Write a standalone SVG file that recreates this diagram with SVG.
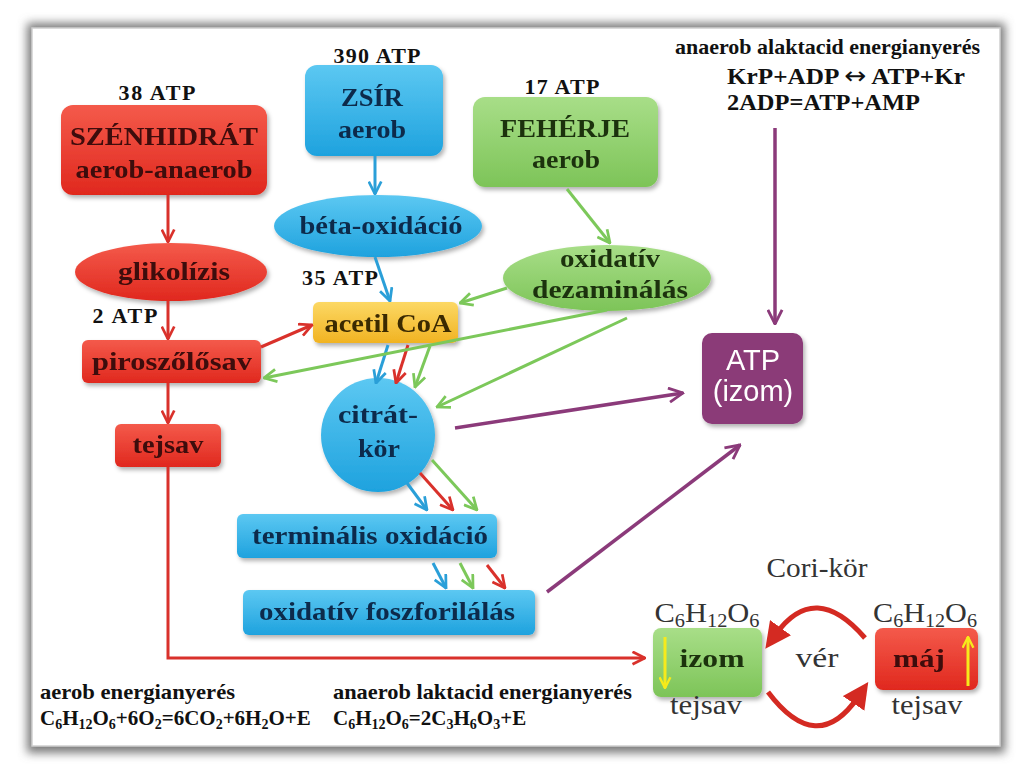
<svg xmlns="http://www.w3.org/2000/svg" width="1024" height="771" viewBox="0 0 1024 771">
<defs>
<filter id="blur" x="-5%" y="-5%" width="110%" height="110%"><feGaussianBlur stdDeviation="5"/></filter>
<filter id="ds" x="-10%" y="-10%" width="125%" height="130%"><feDropShadow dx="2" dy="3" stdDeviation="2" flood-color="#000" flood-opacity="0.3"/></filter>
<linearGradient id="gRed" x1="0" y1="0" x2="0" y2="1"><stop offset="0" stop-color="#f45a4b"/><stop offset="1" stop-color="#e0281e"/></linearGradient>
<linearGradient id="gBlue" x1="0" y1="0" x2="0" y2="1"><stop offset="0" stop-color="#5cc8f2"/><stop offset="1" stop-color="#1ea2de"/></linearGradient>
<linearGradient id="gGreen" x1="0" y1="0" x2="0" y2="1"><stop offset="0" stop-color="#a8de88"/><stop offset="1" stop-color="#7dc458"/></linearGradient>
<linearGradient id="gYel" x1="0" y1="0" x2="0" y2="1"><stop offset="0" stop-color="#fcd864"/><stop offset="1" stop-color="#f1b322"/></linearGradient>
<marker id="aR" viewBox="0 0 12 12" refX="11" refY="6" markerWidth="15" markerHeight="15" markerUnits="userSpaceOnUse" orient="auto"><path d="M1,1 L11,6 L1,11" fill="none" stroke="#d9312b" stroke-width="2.2"/></marker>
<marker id="aB" viewBox="0 0 12 12" refX="11" refY="6" markerWidth="15" markerHeight="15" markerUnits="userSpaceOnUse" orient="auto"><path d="M1,1 L11,6 L1,11" fill="none" stroke="#2a9fd8" stroke-width="2.2"/></marker>
<marker id="aG" viewBox="0 0 12 12" refX="11" refY="6" markerWidth="15" markerHeight="15" markerUnits="userSpaceOnUse" orient="auto"><path d="M1,1 L11,6 L1,11" fill="none" stroke="#7cc85a" stroke-width="2.2"/></marker>
<marker id="aP" viewBox="0 0 12 12" refX="11" refY="6" markerWidth="17" markerHeight="17" markerUnits="userSpaceOnUse" orient="auto"><path d="M1,1 L11,6 L1,11" fill="none" stroke="#8b3a7a" stroke-width="2"/></marker>
<marker id="aY" viewBox="0 0 12 12" refX="11" refY="6" markerWidth="13" markerHeight="13" markerUnits="userSpaceOnUse" orient="auto"><path d="M1,1 L11,6 L1,11" fill="none" stroke="#f6ea1a" stroke-width="2.2"/></marker>
<marker id="aC" viewBox="0 0 10 10" refX="3" refY="5" markerWidth="26" markerHeight="26" markerUnits="userSpaceOnUse" orient="auto"><path d="M0,0 L10,5 L0,10 z" fill="#d42a22"/></marker>
</defs>
<style>
.n{font-family:"Liberation Serif","Times New Roman",serif;font-weight:bold;font-size:26px;text-anchor:middle}
.tr{fill:#3d0a08}.tb{fill:#0c2c4c}.tg{fill:#1d3310}.ty{fill:#3b2a05}
.atp{font-family:"Liberation Serif","Times New Roman",serif;font-weight:bold;font-size:22px;fill:#111;text-anchor:middle}
.cm{font-family:"Liberation Serif","Times New Roman",serif;font-size:27px;fill:#333;text-anchor:middle}
.eq{font-family:"Liberation Serif","Times New Roman",serif;font-weight:bold;font-size:21px;fill:#111}
.eqr{font-family:"Liberation Serif","Times New Roman",serif;font-weight:bold;font-size:23px;fill:#111}
.sans{font-family:"Liberation Sans",Arial,sans-serif;font-size:29px;fill:#fff;text-anchor:middle}
.cr{stroke:#d9312b;stroke-width:3;fill:none}
.cb{stroke:#2a9fd8;stroke-width:3;fill:none}
.cg{stroke:#7cc85a;stroke-width:3;fill:none}
.cp{stroke:#8b3a7a;stroke-width:3.5;fill:none}
</style>

<rect x="27" y="23" width="978" height="730" fill="#7a7a7a" filter="url(#blur)"/>
<rect x="32" y="28" width="968" height="718" fill="#ffffff" stroke="#cfcfcf" stroke-width="1.5"/>

<g id="label-38atp"><text class="atp" x="157" y="100" textLength="77">38 ATP</text></g>
<g id="szenhidrat" filter="url(#ds)">
<rect x="61" y="105" width="206" height="90" rx="12" fill="url(#gRed)"/>
<text class="n tr" x="164" y="145" textLength="188" lengthAdjust="spacingAndGlyphs">SZÉNHIDRÁT</text>
<text class="n tr" x="164" y="178" textLength="177" lengthAdjust="spacingAndGlyphs">aerob-anaerob</text>
</g>
<g id="glikolizis" filter="url(#ds)">
<ellipse cx="171" cy="272" rx="96" ry="29" fill="url(#gRed)"/>
<text class="n tr" x="174" y="280" font-size="25" textLength="112" lengthAdjust="spacingAndGlyphs">glikolízis</text>
</g>
<g id="label-2atp"><text class="atp" x="125" y="323" textLength="65">2 ATP</text></g>
<g id="piroszolosav" filter="url(#ds)">
<rect x="82" y="340" width="179" height="43" rx="6" fill="url(#gRed)"/>
<text class="n tr" x="172" y="370" font-size="25" textLength="160" lengthAdjust="spacingAndGlyphs">piroszőlősav</text>
</g>
<g id="tejsav" filter="url(#ds)">
<rect x="115" y="424" width="106" height="43" rx="6" fill="url(#gRed)"/>
<text class="n tr" x="168" y="453" font-size="25" textLength="71" lengthAdjust="spacingAndGlyphs">tejsav</text>
</g>

<g id="label-390atp"><text class="atp" x="377" y="63" textLength="87">390 ATP</text></g>
<g id="zsir" filter="url(#ds)">
<rect x="305" y="65" width="138" height="91" rx="12" fill="url(#gBlue)"/>
<text class="n tb" x="372" y="106" textLength="62" lengthAdjust="spacingAndGlyphs">ZSÍR</text>
<text class="n tb" x="372" y="138" textLength="68" lengthAdjust="spacingAndGlyphs">aerob</text>
</g>
<g id="beta-oxidacio" filter="url(#ds)">
<ellipse cx="378" cy="226" rx="104" ry="31" fill="url(#gBlue)"/>
<text class="n tb" x="381" y="234" textLength="163" lengthAdjust="spacingAndGlyphs">béta-oxidáció</text>
</g>
<g id="label-35atp"><text class="atp" x="340" y="285" textLength="76">35 ATP</text></g>
<g id="acetil-coa" filter="url(#ds)">
<rect x="313" y="302" width="145" height="41" rx="6" fill="url(#gYel)"/>
<text class="n ty" x="388" y="332" font-size="25" textLength="127" lengthAdjust="spacingAndGlyphs">acetil CoA</text>
</g>

<g id="label-17atp"><text class="atp" x="562" y="94" textLength="75">17 ATP</text></g>
<g id="feherje" filter="url(#ds)">
<rect x="473" y="97" width="185" height="90" rx="12" fill="url(#gGreen)"/>
<text class="n tg" x="565" y="137" textLength="130" lengthAdjust="spacingAndGlyphs">FEHÉRJE</text>
<text class="n tg" x="566" y="168" textLength="68" lengthAdjust="spacingAndGlyphs">aerob</text>
</g>
<g id="oxidativ-dezaminalas" filter="url(#ds)">
<ellipse cx="607" cy="278" rx="104" ry="33" fill="url(#gGreen)"/>
<text class="n tg" x="610" y="267" font-size="25" textLength="100" lengthAdjust="spacingAndGlyphs">oxidatív</text>
<text class="n tg" x="610" y="298" font-size="25" textLength="156" lengthAdjust="spacingAndGlyphs">dezaminálás</text>
</g>

<g id="citrat-kor" filter="url(#ds)">
<circle cx="378" cy="435" r="57" fill="url(#gBlue)"/>
<text class="n tb" x="378" y="423" font-size="25" textLength="80" lengthAdjust="spacingAndGlyphs">citrát-</text>
<text class="n tb" x="379" y="457" font-size="25" textLength="42" lengthAdjust="spacingAndGlyphs">kör</text>
</g>
<g id="terminalis-oxidacio" filter="url(#ds)">
<rect x="237" y="514" width="260" height="44" rx="6" fill="url(#gBlue)"/>
<text class="n tb" x="370" y="544" font-size="24" textLength="236" lengthAdjust="spacingAndGlyphs">terminális oxidáció</text>
</g>
<g id="oxidativ-foszforilalas" filter="url(#ds)">
<rect x="243" y="590" width="292" height="45" rx="6" fill="url(#gBlue)"/>
<text class="n tb" x="387" y="620" font-size="24" textLength="256" lengthAdjust="spacingAndGlyphs">oxidatív foszforilálás</text>
</g>

<g id="atp-izom" filter="url(#ds)">
<rect x="702" y="333" width="101" height="91" rx="10" fill="#8b3a78"/>
<text class="sans" x="753" y="370">ATP</text>
<text class="sans" x="753" y="401">(izom)</text>
</g>

<g id="alaktacid">
<text class="eq" x="675" y="54" font-size="22" textLength="305" lengthAdjust="spacingAndGlyphs">anaerob alaktacid energianyerés</text>
<text class="eqr" x="727" y="84" textLength="238" lengthAdjust="spacingAndGlyphs">KrP+ADP <tspan font-family="DejaVu Sans" font-weight="normal" font-size="24">↔</tspan> ATP+Kr</text>
<text class="eqr" x="727" y="110" textLength="193" lengthAdjust="spacingAndGlyphs">2ADP=ATP+AMP</text>
</g>

<g id="cori-title"><text class="cm" x="817" y="577" textLength="101" lengthAdjust="spacingAndGlyphs">Cori-kör</text></g>
<g id="izom" filter="url(#ds)">
<rect x="653" y="628" width="109" height="69" rx="8" fill="url(#gGreen)"/>
<text class="n tg" x="712" y="667" font-size="25" textLength="65" lengthAdjust="spacingAndGlyphs">izom</text>
<line x1="665" y1="637" x2="665" y2="688" stroke="#f6ea1a" stroke-width="3" marker-end="url(#aY)"/>
</g>
<g id="maj" filter="url(#ds)">
<rect x="875" y="628" width="103" height="62" rx="8" fill="url(#gRed)"/>
<text class="n tr" x="919" y="667" font-size="25" textLength="52" lengthAdjust="spacingAndGlyphs">máj</text>
<line x1="968" y1="686" x2="968" y2="637" stroke="#f6ea1a" stroke-width="3" marker-end="url(#aY)"/>
</g>
<g id="cori-labels">
<text class="cm" x="707" y="622" textLength="105" lengthAdjust="spacingAndGlyphs">C<tspan font-size="18" dy="5">6</tspan><tspan dy="-5">H</tspan><tspan font-size="18" dy="5">12</tspan><tspan dy="-5">O</tspan><tspan font-size="18" dy="5">6</tspan></text>
<text class="cm" x="925" y="622" textLength="104" lengthAdjust="spacingAndGlyphs">C<tspan font-size="18" dy="5">6</tspan><tspan dy="-5">H</tspan><tspan font-size="18" dy="5">12</tspan><tspan dy="-5">O</tspan><tspan font-size="18" dy="5">6</tspan></text>
<text class="cm" x="706" y="714" textLength="72" lengthAdjust="spacingAndGlyphs">tejsav</text>
<text class="cm" x="927" y="714" textLength="71" lengthAdjust="spacingAndGlyphs">tejsav</text>
<text class="cm" x="817" y="667" textLength="43" lengthAdjust="spacingAndGlyphs">vér</text>
</g>

<g id="equations">
<text class="eq" x="40" y="699" textLength="195" lengthAdjust="spacingAndGlyphs">aerob energianyerés</text>
<text class="eq" x="40" y="725">C<tspan font-size="14" dy="4">6</tspan><tspan dy="-4">H</tspan><tspan font-size="14" dy="4">12</tspan><tspan dy="-4">O</tspan><tspan font-size="14" dy="4">6</tspan><tspan dy="-4">+6O</tspan><tspan font-size="14" dy="4">2</tspan><tspan dy="-4">=6CO</tspan><tspan font-size="14" dy="4">2</tspan><tspan dy="-4">+6H</tspan><tspan font-size="14" dy="4">2</tspan><tspan dy="-4">O+E</tspan></text>
<text class="eq" x="333" y="699" textLength="299" lengthAdjust="spacingAndGlyphs">anaerob laktacid energianyerés</text>
<text class="eq" x="333" y="725">C<tspan font-size="14" dy="4">6</tspan><tspan dy="-4">H</tspan><tspan font-size="14" dy="4">12</tspan><tspan dy="-4">O</tspan><tspan font-size="14" dy="4">6</tspan><tspan dy="-4">=2C</tspan><tspan font-size="14" dy="4">3</tspan><tspan dy="-4">H</tspan><tspan font-size="14" dy="4">6</tspan><tspan dy="-4">O</tspan><tspan font-size="14" dy="4">3</tspan><tspan dy="-4">+E</tspan></text>
</g>

<g id="connectors">
<line class="cr" x1="168" y1="195" x2="168" y2="242" marker-end="url(#aR)"/>
<line class="cr" x1="168" y1="301" x2="168" y2="339" marker-end="url(#aR)"/>
<line class="cr" x1="168" y1="383" x2="168" y2="423" marker-end="url(#aR)"/>
<polyline class="cr" points="168,467 168,658 645,658" marker-end="url(#aR)"/>
<line class="cr" x1="261" y1="347" x2="312" y2="325" marker-end="url(#aR)"/>
<line class="cr" x1="408" y1="345" x2="396" y2="383" marker-end="url(#aR)"/>
<line class="cr" x1="420" y1="473" x2="453" y2="510" marker-end="url(#aR)"/>
<line class="cr" x1="487" y1="565" x2="505" y2="588" marker-end="url(#aR)"/>

<line class="cb" x1="375" y1="156" x2="375" y2="194" marker-end="url(#aB)"/>
<line class="cb" x1="375" y1="257" x2="390" y2="301" marker-end="url(#aB)"/>
<line class="cb" x1="388" y1="345" x2="376" y2="383" marker-end="url(#aB)"/>
<line class="cb" x1="407" y1="483" x2="427" y2="510" marker-end="url(#aB)"/>
<line class="cb" x1="433" y1="563" x2="446" y2="588" marker-end="url(#aB)"/>

<line class="cg" x1="567" y1="189" x2="610" y2="243" marker-end="url(#aG)"/>
<line class="cg" x1="507" y1="288" x2="460" y2="303" marker-end="url(#aG)"/>
<line class="cg" x1="607" y1="310" x2="264" y2="378" marker-end="url(#aG)"/>
<line class="cg" x1="627" y1="318" x2="437" y2="407" marker-end="url(#aG)"/>
<line class="cg" x1="430" y1="346" x2="415" y2="387" marker-end="url(#aG)"/>
<line class="cg" x1="432" y1="460" x2="477" y2="510" marker-end="url(#aG)"/>
<line class="cg" x1="460" y1="563" x2="473" y2="588" marker-end="url(#aG)"/>

<line class="cp" x1="775" y1="128" x2="775" y2="324" marker-end="url(#aP)"/>
<line class="cp" x1="455" y1="428" x2="683" y2="393" marker-end="url(#aP)"/>
<line class="cp" x1="547" y1="592" x2="740" y2="445" marker-end="url(#aP)"/>

<path d="M865,638 Q815,580 776,634" stroke="#d42a22" stroke-width="5" fill="none" marker-end="url(#aC)"/>
<path d="M768,692 Q817,757 858,697" stroke="#d42a22" stroke-width="5" fill="none" marker-end="url(#aC)"/>
</g>
</svg>
